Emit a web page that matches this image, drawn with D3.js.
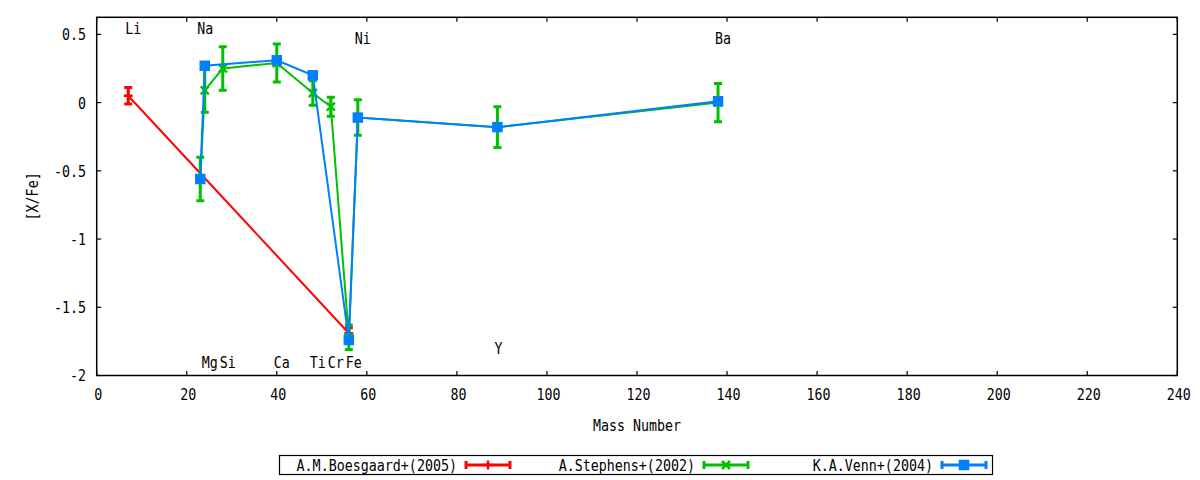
<!DOCTYPE html>
<html><head><meta charset="utf-8">
<script src="https://cdn.jsdelivr.net/npm/d3@7"></script>
<style>body{margin:0;background:#fff}svg{display:block}</style>
</head><body>
<svg id="chart" width="1200" height="480"></svg>
<script>
// ---- data ----
const elementNames = ["Li","Na","Mg","Si","Ca","Ti","Cr","Fe","Ni","Y","Ba"];
const elementMass  = [7,23,24,28,40,48,52,56,58,89,138];
const elementLabelY = [0.55,0.55,-1.9,-1.9,-1.9,-1.9,-1.9,-1.9,0.47,-1.8,0.47];

const boesgaardMass = [7,56];
const boesgaardVal  = [0.05,-1.69];
const boesgaardErr  = [0.06,0.04];

const stephensMass = [23,24,28,40,48,52,56,58,89,138];
const stephensVal  = [-0.56,0.09,0.25,0.29,0.07,-0.03,-1.72,-0.11,-0.18,0.00];
const stephensErr  = [0.16,0.16,0.16,0.14,0.09,0.07,0.09,0.13,0.15,0.14];

const vennMass = [23,24,40,48,56,58,89,138];
const vennVal  = [-0.56,0.27,0.31,0.20,-1.74,-0.11,-0.18,0.01];
const vennErr  = [0,0,0,0,0,0,0,0];

const seriesNames = ["A.M.Boesgaard+(2005)","A.Stephens+(2002)","K.A.Venn+(2004)"];
const seriesColors = ["#ff0000","#00c000","#0080ff"];
const seriesMarkers = ["plus","cross","square"];

const xTicks = [0,20,40,60,80,100,120,140,160,180,200,220,240];
const yTicks = [0.5,0,-0.5,-1,-1.5,-2];
const yTickLabels = ["0.5","0","-0.5","-1","-1.5","-2"];
const xTitle = "Mass Number";
const yTitle = "[X/Fe]";

// ---- layout ----
const svg = d3.select("#chart");
const x = d3.scaleLinear().domain([0,240]).range([96.7,1177.3]);
const y = d3.scaleLinear().domain([-2,0.625]).range([375.5,17.3]);
const FONT = "'DejaVu Sans Mono', monospace";
const SX = 0.833;

function txt(parent, px, py, s, anchor, rot){
  return parent.append("text")
    .attr("transform", `translate(${px},${py})` + (rot?` rotate(${rot})`:"") + ` scale(${SX},1)`)
    .attr("text-anchor", anchor||"start")
    .attr("dominant-baseline","central")
    .attr("font-family", FONT).attr("font-size","16px").attr("fill","#000")
    .text(s);
}

const [x0,x1] = x.range(); const [yb,yt] = y.range();
const TL = 4.5;
const axes = svg.append("g").attr("stroke","#000").attr("stroke-width",1.2);
// ticks (inward, mirrored)
xTicks.forEach(t=>{
  axes.append("line").attr("x1",x(t)).attr("x2",x(t)).attr("y1",yb).attr("y2",yb-TL);
  axes.append("line").attr("x1",x(t)).attr("x2",x(t)).attr("y1",yt).attr("y2",yt+TL);
});
yTicks.forEach(t=>{
  axes.append("line").attr("x1",x0).attr("x2",x0+TL).attr("y1",y(t)).attr("y2",y(t));
  axes.append("line").attr("x1",x1).attr("x2",x1-TL).attr("y1",y(t)).attr("y2",y(t));
});
svg.append("rect").attr("x",x0).attr("y",yt).attr("width",x1-x0).attr("height",yb-yt)
  .attr("fill","none").attr("stroke","#000").attr("stroke-width",1.5);

const tl = svg.append("g");
xTicks.forEach(t=> txt(tl, x(t)+1.5, 394, String(t), "middle"));
yTicks.forEach((t,i)=> txt(tl, 86, y(t), yTickLabels[i], "end"));
txt(tl, (x0+x1)/2, 425, xTitle, "middle");
txt(tl, 32, (yt+yb)/2, yTitle, "middle", -90);

// element labels
elementNames.forEach((n,i)=> txt(tl, x(elementMass[i])-3, y(elementLabelY[i]), n, "start"));

// ---- series ----
const CAP = 4, EW = 3;
function marker(g, kind, cx, cy, color){
  if(kind==="plus"){
    g.append("path").attr("d",`M${cx-4.5},${cy}H${cx+4.5}M${cx},${cy-4.5}V${cy+4.5}`)
      .attr("stroke",color).attr("stroke-width",2.5).attr("fill","none");
  } else if(kind==="cross"){
    g.append("path").attr("d",`M${cx-4},${cy-4}L${cx+4},${cy+4}M${cx-4},${cy+4}L${cx+4},${cy-4}`)
      .attr("stroke",color).attr("stroke-width",2.5).attr("fill","none");
  } else {
    g.append("rect").attr("x",cx-5.25).attr("y",cy-5.25).attr("width",10.5).attr("height",10.5).attr("fill",color);
  }
}
function drawSeries(mass, val, err, color, kind){
  const g = svg.append("g");
  const pts = mass.map((m,i)=>({m, v:val[i], e:err[i]}));
  const line = d3.line().x(d=>x(d.m)).y(d=>y(d.v));
  g.append("path").datum(pts).attr("d",line).attr("fill","none").attr("stroke",color).attr("stroke-width",2);
  pts.forEach(d=>{
    const cx = x(d.m), lo = y(d.v-d.e), hi = y(d.v+d.e);
    g.append("path").attr("d",`M${cx},${lo}V${hi}M${cx-CAP},${lo}H${cx+CAP}M${cx-CAP},${hi}H${cx+CAP}`)
      .attr("stroke",color).attr("stroke-width",EW).attr("fill","none");
    marker(g, kind, cx, y(d.v), color);
  });
}
drawSeries(boesgaardMass, boesgaardVal, boesgaardErr, seriesColors[0], seriesMarkers[0]);
drawSeries(stephensMass, stephensVal, stephensErr, seriesColors[1], seriesMarkers[1]);
drawSeries(vennMass, vennVal, vennErr, seriesColors[2], seriesMarkers[2]);

// ---- legend ----
const lg = svg.append("g");
lg.append("rect").attr("x",279.5).attr("y",455.5).attr("width",713).attr("height",19)
  .attr("fill","none").attr("stroke","#000").attr("stroke-width",1.2);
seriesNames.forEach((n,i)=>{
  const sx = 466 + i*238, ly = 465;
  txt(lg, sx-9, ly, n, "end");
  const c = seriesColors[i];
  lg.append("path").attr("d",`M${sx},${ly}H${sx+44}M${sx},${ly-4}V${ly+4}M${sx+44},${ly-4}V${ly+4}`)
    .attr("stroke",c).attr("stroke-width",3).attr("fill","none");
  marker(lg, seriesMarkers[i], sx+22, ly, c);
});
</script>
</body></html>
